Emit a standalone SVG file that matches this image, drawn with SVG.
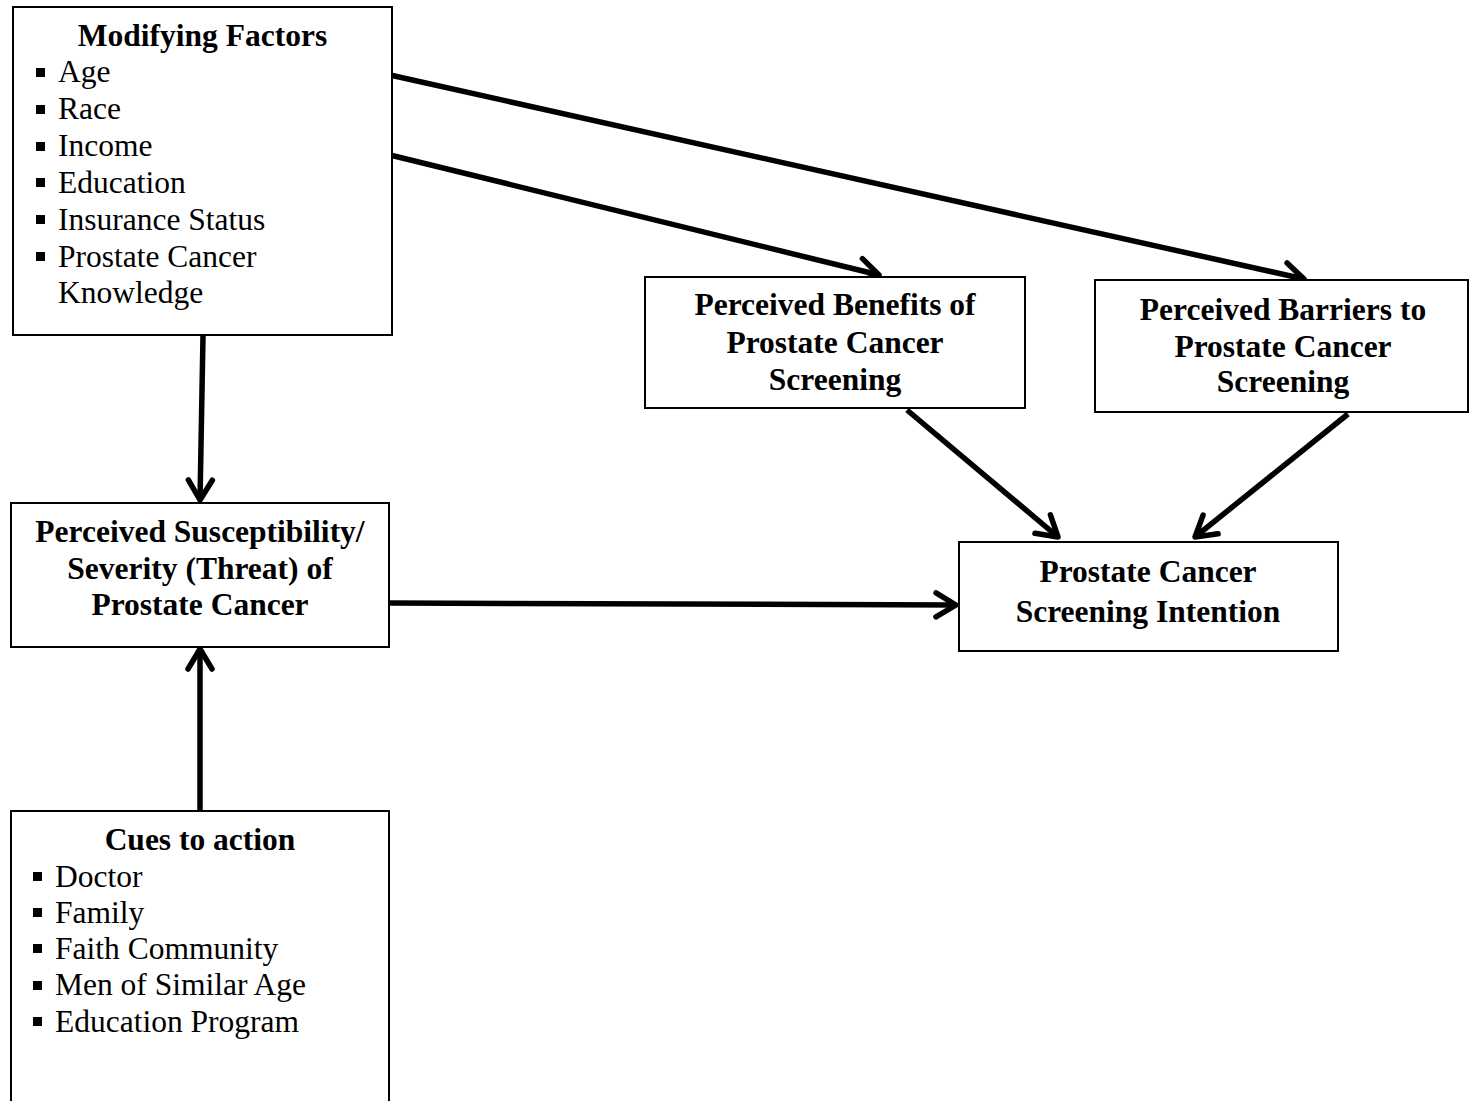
<svg xmlns="http://www.w3.org/2000/svg" width="1470" height="1101" viewBox="0 0 1470 1101">
  <style>
    .box { fill: #fff; stroke: #000; stroke-width: 2; }
    .t { font-family: "Liberation Serif", "Times New Roman", serif; font-size: 31.5px; fill: #000; }
    .b { font-weight: bold; text-anchor: middle; }
    .conn { fill: none; stroke: #000; stroke-width: 5.5; marker-end: url(#ah); }
    .bul { fill: #000; }
  </style>
  <defs>
    <marker id="ah" markerUnits="userSpaceOnUse" viewBox="-28 -18 34 36" refX="0" refY="0" markerWidth="34" markerHeight="36" orient="auto">
      <path d="M -20 -12 L 0 0 L -20 12" fill="none" stroke="#000" stroke-width="5.5" stroke-linecap="round" stroke-linejoin="round"/>
    </marker>
    <rect id="sq" width="9" height="9"/>
  </defs>
  <rect width="1470" height="1101" fill="#fff"/>

  <g id="connectors">
    <line class="conn" x1="203" y1="336" x2="200" y2="500"/>
    <line class="conn" x1="200" y1="810" x2="200" y2="649"/>
    <line class="conn" x1="390" y1="603" x2="956" y2="605"/>
    <line class="conn" x1="390" y1="155" x2="879" y2="275"/>
    <line class="conn" x1="390" y1="75" x2="1304" y2="279"/>
    <line class="conn" x1="907" y1="410" x2="1058" y2="537"/>
    <line class="conn" x1="1348" y1="414" x2="1195" y2="537"/>
  </g>

  <g id="modifying-factors">
    <rect class="box" x="13" y="7" width="379" height="328"/>
    <text class="t b" x="202.5" y="46">Modifying Factors</text>
    <use href="#sq" class="bul" x="36" y="68"/>
    <use href="#sq" class="bul" x="36" y="105"/>
    <use href="#sq" class="bul" x="36" y="142"/>
    <use href="#sq" class="bul" x="36" y="178"/>
    <use href="#sq" class="bul" x="36" y="215"/>
    <use href="#sq" class="bul" x="36" y="252"/>
    <text class="t" x="58" y="82">Age</text>
    <text class="t" x="58" y="119">Race</text>
    <text class="t" x="58" y="156">Income</text>
    <text class="t" x="58" y="192.5">Education</text>
    <text class="t" x="58" y="229.5">Insurance Status</text>
    <text class="t" x="58" y="266.5">Prostate Cancer</text>
    <text class="t" x="58" y="303">Knowledge</text>
  </g>

  <g id="perceived-benefits">
    <rect class="box" x="645" y="277" width="380" height="131"/>
    <text class="t b" x="835" y="315">Perceived Benefits of</text>
    <text class="t b" x="835" y="353">Prostate Cancer</text>
    <text class="t b" x="835" y="390">Screening</text>
  </g>

  <g id="perceived-barriers">
    <rect class="box" x="1095" y="280" width="373" height="132"/>
    <text class="t b" x="1283" y="320">Perceived Barriers to</text>
    <text class="t b" x="1283" y="357">Prostate Cancer</text>
    <text class="t b" x="1283" y="392">Screening</text>
  </g>

  <g id="perceived-susceptibility">
    <rect class="box" x="11" y="503" width="378" height="144"/>
    <text class="t b" x="200" y="542">Perceived Susceptibility/</text>
    <text class="t b" x="200" y="579">Severity (Threat) of</text>
    <text class="t b" x="200" y="615">Prostate Cancer</text>
  </g>

  <g id="screening-intention">
    <rect class="box" x="959" y="542" width="379" height="109"/>
    <text class="t b" x="1148" y="582">Prostate Cancer</text>
    <text class="t b" x="1148" y="622">Screening Intention</text>
  </g>

  <g id="cues-to-action">
    <rect class="box" x="11" y="811" width="378" height="300"/>
    <text class="t b" x="200" y="850">Cues to action</text>
    <use href="#sq" class="bul" x="33" y="872"/>
    <use href="#sq" class="bul" x="33" y="908"/>
    <use href="#sq" class="bul" x="33" y="944"/>
    <use href="#sq" class="bul" x="33" y="981"/>
    <use href="#sq" class="bul" x="33" y="1017"/>
    <text class="t" x="55" y="886.5">Doctor</text>
    <text class="t" x="55" y="922.5">Family</text>
    <text class="t" x="55" y="958.5">Faith Community</text>
    <text class="t" x="55" y="995">Men of Similar Age</text>
    <text class="t" x="55" y="1031.5">Education Program</text>
  </g>
</svg>
